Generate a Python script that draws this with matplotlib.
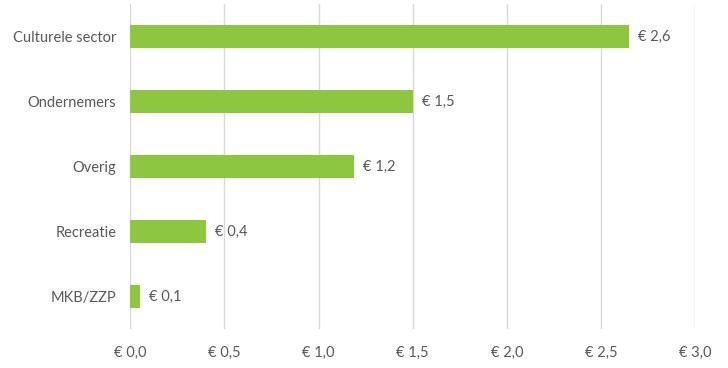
import matplotlib
matplotlib.use('Agg')
from matplotlib import pyplot as plt
from matplotlib.ticker import FuncFormatter

categories = ['Culturele sector', 'Ondernemers', 'Overig', 'Recreatie', 'MKB/ZZP']
values = [2.65, 1.50, 1.19, 0.40, 0.052]
xticks = [0.0, 0.5, 1.0, 1.5, 2.0, 2.5, 3.0]

text_color = '#595959'
bar_color = '#8DC63F'
grid_color = '#D9D9D9'

plt.rcParams['font.family'] = ['Lato', 'DejaVu Sans']


def euro(v, pos=None):
    return '€ ' + f'{v:.1f}'.replace('.', ',')


fig = plt.figure(figsize=(7.28, 3.68), dpi=100)
ax = fig.add_axes([130.3 / 728, 1 - 329 / 368, 565 / 728, 325 / 368])

pos = list(range(len(categories)))
ax.barh(pos, values, height=0.355, color=bar_color, zorder=3)

for p, v in zip(pos, values):
    ax.text(v + 0.048, p, euro(v), va='center', ha='left',
            fontsize=10.5, color=text_color)

ax.set_xlim(0, 3.0)
ax.set_ylim(len(categories) - 0.5, -0.5)
ax.set_xticks(xticks)
ax.xaxis.set_major_formatter(FuncFormatter(euro))
ax.set_yticks(pos)
ax.set_yticklabels(categories)

ax.tick_params(axis='both', length=0, labelsize=10.5, colors=text_color)
ax.tick_params(axis='y', pad=10)
ax.tick_params(axis='x', pad=12)
ax.grid(True, axis='x', color=grid_color, linewidth=1, zorder=0)
for s in ax.spines.values():
    s.set_visible(False)

fig.savefig('out.png', dpi=100)
